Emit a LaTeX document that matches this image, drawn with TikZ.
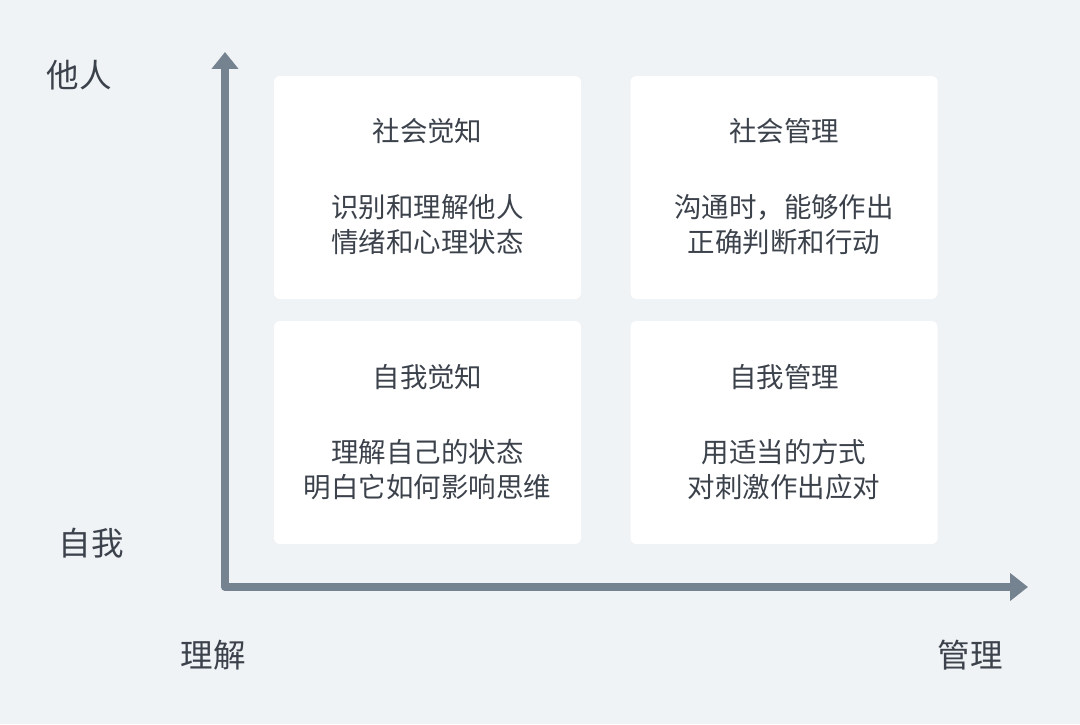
\documentclass[tikz,border=0pt]{standalone}
\usepackage{fontspec}
\newfontfamily\cjk{Noto Sans CJK SC}
\usetikzlibrary{arrows.meta}
\definecolor{bg}{HTML}{F0F3F6}
\definecolor{axiscol}{HTML}{75828F}
\definecolor{txt}{HTML}{3C424B}
\tikzset{
  quad/.style={fill=white, rounded corners=4.5pt, minimum width=230.25pt, minimum height=167.25pt, inner sep=0pt, draw=none},
  qtitle/.style={font=\cjk\fontsize{20.6pt}{26.25pt}\selectfont, text=txt, inner sep=0pt},
  qbody/.style={font=\cjk\fontsize{20.6pt}{26.25pt}\selectfont, text=txt, align=center, inner sep=0pt},
  axlabel/.style={font=\cjk\fontsize{24.4pt}{28pt}\selectfont, text=txt, inner sep=0pt},
  axisline/.style={draw=axiscol, line width=6pt, line join=round,
     {Triangle[length=12.75pt,width=19.5pt]}-{Triangle[length=13.5pt,width=20.25pt]}}
}
\begin{document}
\begin{tikzpicture}[x=0.75pt,y=-0.75pt]
\fill[bg] (0,0) rectangle (1080,724);
\useasboundingbox (0,0) rectangle (1080,724);

% boxes
\node[quad] (ul) at (427.5,187.5) {};
\node[quad] (ur) at (784,187.5) {};
\node[quad] (ll) at (427.5,432.5) {};
\node[quad] (lr) at (784,432.5) {};

\node[qtitle] (ult) at (427.5,131) {社会觉知};
\node[qbody]  (ulb) at (427.5,224.5) {识别和理解他人\\情绪和心理状态};
\node[qtitle] (urt) at (784,131) {社会管理};
\node[qbody]  (urb) at (784,224.5) {沟通时，能够作出\\正确判断和行动};
\node[qtitle] (llt) at (427.5,377) {自我觉知};
\node[qbody]  (llb) at (427.5,470) {理解自己的状态\\明白它如何影响思维};
\node[qtitle] (lrt) at (784,377) {自我管理};
\node[qbody]  (lrb) at (784,470) {用适当的方式\\对刺激作出应对};

% axes
\coordinate (ytop) at (225,52);
\coordinate (origin) at (225,587);
\coordinate (xend) at (1028,587);
\draw[axisline] (ytop) -- (origin) -- (xend);

% axis labels
\node[axlabel] (other) at (79.5,75) {他人};
\node[axlabel] (self) at (91,543) {自我};
\node[axlabel] (underst) at (213,655) {理解};
\node[axlabel] (manage) at (970,655) {管理};
\end{tikzpicture}
\end{document}
